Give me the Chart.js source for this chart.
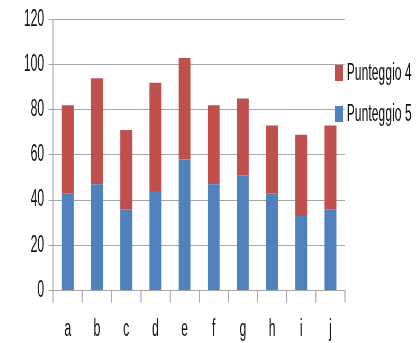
<!DOCTYPE html>
<html>
<head>
<meta charset="utf-8">
<script src="https://cdn.jsdelivr.net/npm/chart.js@4"></script>
<style>
  html, body { margin: 0; padding: 0; background: #fff; overflow: hidden; }
  /* the reference text is very condensed, so draw wide and squeeze it */
  #wrap { position: absolute; left: 0; top: 0; width: 787px; height: 356px; transform: scaleX(0.53); transform-origin: 0 0; }
</style>
</head>
<body>
<div id="wrap"><canvas id="chart"></canvas></div>
<script>
var categories = ['a', 'b', 'c', 'd', 'e', 'f', 'g', 'h', 'i', 'j'];
var punteggio5 = [43, 47, 36, 44, 58, 47, 51, 43, 33, 36];
var punteggio4 = [39, 47, 35, 48, 45, 35, 34, 30, 36, 37];
var yTicks = [0, 20, 40, 60, 80, 100, 120];

var gridColor = '#a6a6a6';
var fontSpec = { family: 'Liberation Sans', size: 23 };
var yFont = { family: 'Liberation Sans', size: 23, lineHeight: 1 };

// legend sits partly over the plot, so it is drawn by hand
var sideLegend = {
    id: 'sideLegend',
    afterDraw: function (chart) {
        var c = chart.ctx;
        var area = chart.chartArea;
        var items = chart.data.datasets.slice().reverse();
        c.save();
        c.font = fontSpec.size + 'px ' + fontSpec.family;
        c.textBaseline = 'middle';
        c.textAlign = 'left';
        items.forEach(function (ds, i) {
            var y = 73 + i * 41;
            c.fillStyle = ds.backgroundColor;
            c.fillRect(area.right - 19, y - 8, 15, 16);
            c.fillStyle = '#111';
            c.fillText(ds.label, area.right + 3, y + 1);
        });
        c.restore();
    }
};

var ctx = document.getElementById('chart').getContext('2d');
var myChart = new Chart(ctx, {
    type: 'bar',
    data: {
        labels: categories,
        datasets: [{
            label: 'Punteggio 5',
            data: punteggio5,
            backgroundColor: '#4f81bd',
            categoryPercentage: 1,
            barPercentage: 0.41
        }, {
            label: 'Punteggio 4',
            data: punteggio4,
            backgroundColor: '#c0504d',
            categoryPercentage: 1,
            barPercentage: 0.41
        }]
    },
    options: {
        responsive: true,
        maintainAspectRatio: false,
        animation: false,
        layout: {
            padding: { left: 37, right: 136, top: 0, bottom: 0 }
        },
        plugins: {
            legend: { display: false },
            tooltip: { enabled: false }
        },
        scales: {
            x: {
                stacked: true,
                grid: {
                    drawOnChartArea: false,
                    drawTicks: true,
                    tickLength: 12,
                    color: gridColor,
                    lineWidth: 2,
                    offset: true
                },
                border: { color: gridColor, width: 1 },
                ticks: { color: '#111', font: fontSpec, padding: 13 }
            },
            y: {
                stacked: true,
                min: 0,
                max: 120,
                afterBuildTicks: function (axis) {
                    axis.ticks = yTicks.map(function (v) { return { value: v }; });
                },
                grid: {
                    color: gridColor,
                    lineWidth: 1,
                    tickLength: 9
                },
                border: { color: gridColor, width: 2 },
                ticks: { color: '#111', font: yFont, padding: 8 }
            }
        }
    },
    plugins: [sideLegend]
});
</script>
</body>
</html>
